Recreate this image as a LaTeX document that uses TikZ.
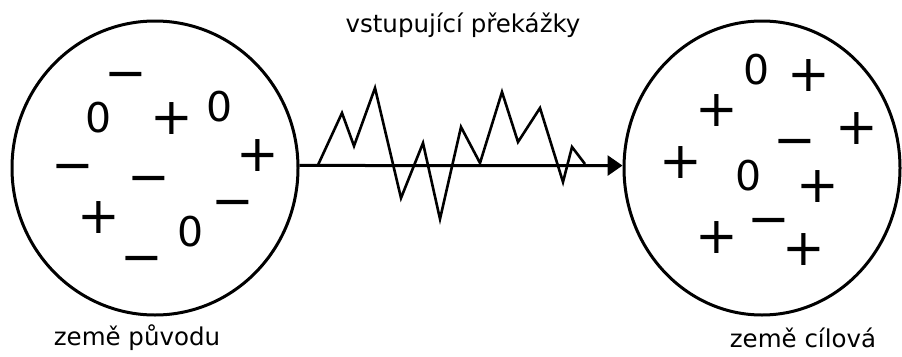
\documentclass[tikz,border=0pt]{standalone}
\usepackage{fontspec}
\setmainfont{DejaVu Sans}
\usetikzlibrary{shapes.geometric,arrows.meta}

\tikzset{
  country/.style={draw, ellipse, line width=3pt, inner sep=0pt, minimum height=294pt},
  sign/.style={inner sep=0pt, font=\fontsize{51}{51}\selectfont, text height=32pt, text depth=0pt},
  zero/.style={inner sep=0pt, font=\fontsize{41}{41}\selectfont},
  caption/.style={font=\fontsize{24.5}{28}\selectfont}
}

\begin{document}
\begin{tikzpicture}[x=1pt, y=-1pt]
  \useasboundingbox (0,0) rectangle (902,356);
  % the two countries
  \node[country, minimum width=286pt] (origin) at (155,168) {};
  \node[country, minimum width=276pt] (target) at (762,168) {};

  % charges in the country of origin
  \node[sign] (o1) at (126,74) {−};
  \node[zero] (o2) at (99,118) {0};
  \node[sign] (o3) at (172,118) {+};
  \node[zero] (o4) at (220,107) {0};
  \node[sign] (o5) at (258,155) {+};
  \node[sign] (o6) at (73,166) {−};
  \node[sign] (o7) at (149,178) {−};
  \node[sign] (o8) at (233,202) {−};
  \node[sign] (o9) at (99,217) {+};
  \node[zero] (o10) at (191,232) {0};
  \node[sign] (o11) at (142,258) {−};

  % charges in the target country
  \node[zero] (t1) at (757,70) {0};
  \node[sign] (t2) at (809,75) {+};
  \node[sign] (t3) at (717,110) {+};
  \node[sign] (t4) at (857,128) {+};
  \node[sign] (t5) at (795,141) {−};
  \node[sign] (t6) at (681,162) {+};
  \node[zero] (t7) at (749,176) {0};
  \node[sign] (t8) at (818,186) {+};
  \node[sign] (t9) at (769,220) {−};
  \node[sign] (t10) at (717,237) {+};
  \node[sign] (t11) at (804,249) {+};

  % path between them
  \draw[line width=3pt, -{Triangle[length=15pt,width=20pt]}] (origin.1) -- (target.179);
  \draw[line width=2.6pt, line join=miter]
    (318,165) -- (342,113) -- (354,146) -- (375,88) -- (401,198) -- (423,143)
    -- (440,219) -- (461,127) -- (480,163) -- (502,92) -- (518,142) -- (540,108)
    -- (563,182) -- (572,147) -- (585,164);

  \node[caption] (obstacles) at (463,25) {vstupující překážky};
  \node[caption] (originlabel) at (137,338) {země původu};
  \node[caption] (targetlabel) at (803,338) {země cílová};
\end{tikzpicture}
\end{document}
